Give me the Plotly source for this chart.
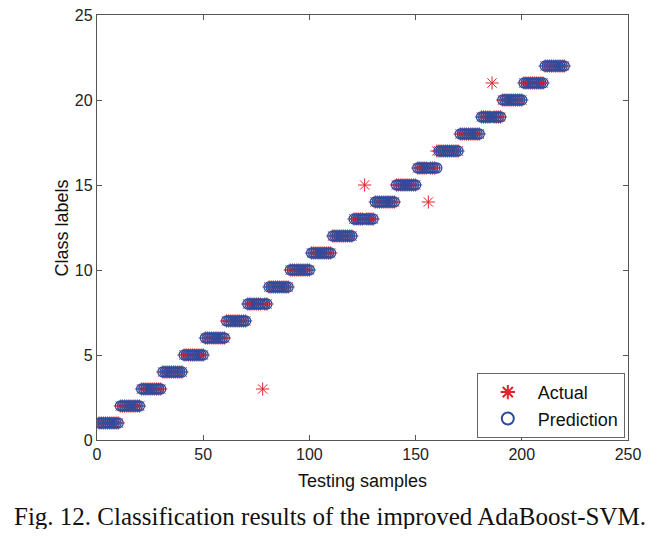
import plotly.graph_objects as go

# Data
class_labels = list(range(1, 23))          # 22 classes
samples_per_class = [10] * 22              # 10 test samples per class
# misclassified samples: (sample index, actual label, predicted label)
mismatch_samples = [78, 126, 156, 160, 186]
mismatch_actual = [3, 15, 14, 17, 21]
mismatch_pred = [8, 13, 16, 16, 19]

x_ticks = [0, 50, 100, 150, 200, 250]
y_ticks = [0, 5, 10, 15, 20, 25]

# build series
samples = []
actual = []
for lab, n in zip(class_labels, samples_per_class):
    for _ in range(n):
        samples.append(len(samples) + 1)
        actual.append(lab)
prediction = list(actual)
for s, a, p in zip(mismatch_samples, mismatch_actual, mismatch_pred):
    actual[s - 1] = a
    prediction[s - 1] = p

RED = "#e3232b"
BLUE = "#2f4c9c"
SANS = "Liberation Sans, Arial, sans-serif"

fig = go.Figure()
fig.add_trace(go.Scatter(
    x=samples, y=actual, mode="markers", name="Actual",
    marker=dict(symbol="asterisk-open", size=11, color=RED,
                line=dict(color=RED, width=1)),
))
fig.add_trace(go.Scatter(
    x=samples, y=prediction, mode="markers", name="Prediction",
    marker=dict(symbol="circle-open", size=10, color=BLUE,
                line=dict(color=BLUE, width=1.3)),
))

axis_common = dict(
    showline=True, linecolor="#555555", linewidth=1.3, mirror="ticks",
    ticks="inside", ticklen=5, tickcolor="#555555", tickwidth=1,
    showgrid=False, zeroline=False, automargin=False,
    ticklabeloverflow="allow",
    tickfont=dict(family=SANS, size=16, color="#222222"),
)

fig.update_layout(
    width=645, height=521,
    margin=dict(l=89, r=25, t=7, b=89),
    paper_bgcolor="white", plot_bgcolor="white",
    xaxis=dict(range=[0, 250], tickvals=x_ticks, **axis_common),
    yaxis=dict(range=[0, 25], tickvals=y_ticks, **axis_common),
    legend=dict(x=0.994, y=0.005, xanchor="right", yanchor="bottom",
                bgcolor="white", bordercolor="#666666", borderwidth=1,
                font=dict(family=SANS, size=18, color="#111111"),
                itemsizing="constant", itemwidth=50, tracegroupgap=0),
    showlegend=True,
    annotations=[
        dict(text="Testing samples", xref="paper", yref="paper",
             x=0.5, y=-0.0965, xanchor="center", yanchor="middle",
             showarrow=False, font=dict(family=SANS, size=18, color="#111111")),
        dict(text="Class labels", xref="paper", yref="paper",
             x=-0.066, y=0.5, xanchor="center", yanchor="middle", textangle=-90,
             showarrow=False, font=dict(family=SANS, size=18, color="#111111")),
        dict(text="Fig. 12. Classification results of the improved AdaBoost-SVM.",
             xref="paper", yref="paper", x=0.439, y=-0.181,
             xanchor="center", yanchor="middle", showarrow=False,
             font=dict(family="Liberation Serif, Times New Roman, serif", size=25,
                       color="#111111")),
    ],
)

fig.write_html("out.html")
